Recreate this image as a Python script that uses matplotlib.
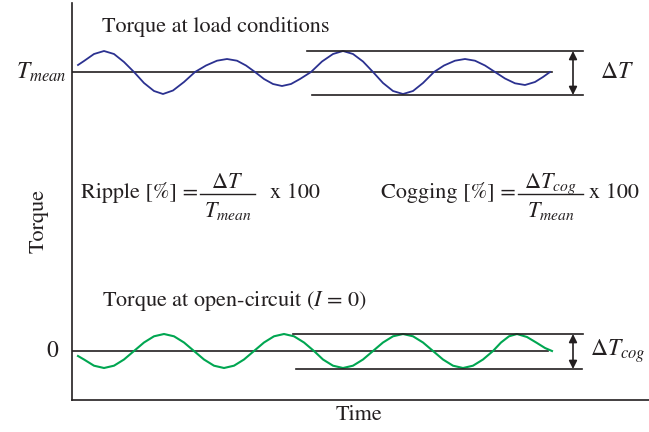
import numpy as np
import matplotlib
matplotlib.use("Agg")
import matplotlib.pyplot as plt

plt.rcParams['font.family'] = ['STIXGeneral', 'Liberation Serif', 'DejaVu Serif']
plt.rcParams['mathtext.fontset'] = 'stix'

# levels of the two traces (arbitrary torque units)
T_MEAN = 328
T_ZERO = 49

# torque at load: time and ripple around T_MEAN
load_t = [6, 12, 22, 32, 42, 52, 62, 72, 82, 91,
          101, 112, 123, 134, 145, 155, 165, 174, 183, 192,
          201, 210, 219, 228, 239, 250, 261, 271, 281, 291,
          301, 311, 321, 331, 341, 351, 362, 372, 383, 393,
          403, 413, 423, 433, 443, 453, 463, 471, 478]
load_ripple = [7, 11, 18, 21, 18, 10, 0, -11, -19, -22,
               -18.5, -10, 0, 6.5, 11.3, 13, 11.3, 6.5, 0, -7,
               -12, -14, -12, -7, 0, 10.5, 18, 21, 18, 10.5,
               0, -11, -19, -22, -19, -11, 0, 6.5, 11.3, 13,
               11.3, 6.5, 0, -6.5, -11.3, -13, -10, -5, 0]

# torque at open circuit (cogging) around 0
cog_t = [6, 12, 22, 32, 42, 52, 62, 72, 82, 92,
         102, 112, 122, 132, 142, 152, 162, 172, 182, 192,
         202, 212, 222, 232, 242, 251, 261, 271, 281, 291,
         301, 311, 321, 331, 341, 351, 361, 371, 381, 391,
         401, 411, 421, 429, 437, 445, 455, 465, 473, 480]
cog_ripple = [-5, -8.5, -14.7, -17, -14.7, -8.5, 0, 8.5, 14.7, 17,
              14.7, 8.5, 0, -8.5, -14.7, -17, -14.7, -8.5, 0, 8.5,
              14.7, 17, 14.7, 8.5, 0, -8.5, -14.7, -17, -14.7, -8.5,
              0, 8.5, 14.7, 17, 14.7, 8.5, 0, -8.5, -14.7, -17,
              -14.7, -8.5, 0, 8.5, 14.7, 17, 14, 8, 3, 0]

# envelope lines (max / min) used to define delta T
load_env_hi, load_env_lo = 349, 305
cog_env_hi, cog_env_lo = 66, 31

INK = '#231f20'
BLUE = '#2b3190'
GREEN = '#00a651'

W, H = 649, 432
fig = plt.figure(figsize=(W / 100, H / 100), dpi=100)
ax = fig.add_axes([72 / W, 32 / H, 577 / W, 397 / H])
ax.set_xlim(0, 577)
ax.set_ylim(0, 397)

for s in ['top', 'right']:
    ax.spines[s].set_visible(False)
for s in ['left', 'bottom']:
    ax.spines[s].set_color(INK)
    ax.spines[s].set_linewidth(1.2)

# mean lines
ax.plot([0, 480], [T_MEAN, T_MEAN], color=INK, lw=1.2)
ax.plot([0, 476], [T_ZERO, T_ZERO], color=INK, lw=1.2)

# waves
ax.plot(load_t, T_MEAN + np.array(load_ripple), color=BLUE, lw=1.3)
ax.plot(cog_t, T_ZERO + np.array(cog_ripple), color=GREEN, lw=1.5)

# envelopes
ax.plot([235, 511], [load_env_hi] * 2, color=INK, lw=1.2)
ax.plot([240, 511], [load_env_lo] * 2, color=INK, lw=1.2)
ax.plot([221, 511], [cog_env_hi] * 2, color=INK, lw=1.2)
ax.plot([224, 510], [cog_env_lo] * 2, color=INK, lw=1.2)

arrow = dict(arrowstyle='<|-|>', color=INK, lw=1.2, shrinkA=0, shrinkB=0,
             mutation_scale=12)
ax.annotate('', xy=(501, load_env_hi), xytext=(501, load_env_lo), arrowprops=arrow)
ax.annotate('', xy=(501, cog_env_hi), xytext=(501, cog_env_lo), arrowprops=arrow)

fs = 16
ax.text(528, T_MEAN, r'$\Delta T$', fontsize=17, va='center', ha='left', color=INK)
ax.text(518, T_ZERO, r'$\Delta T_{cog}$', fontsize=17, va='center', ha='left', color=INK)

ax.text(30, 373, 'Torque at load conditions', fontsize=fs, va='center', color=INK)
ax.text(30, 99, 'Torque at open-circuit ($I$ = 0)', fontsize=fs, va='center', color=INK)


def fraction(x0, x1, num, den, lead, tail, tail_x):
    ax.text(x0 - 2, 202, lead, fontsize=fs, ha='right', va='baseline', color=INK)
    ax.plot([x0, x1], [206, 206], color=INK, lw=1.0)
    xc = (x0 + x1) / 2
    ax.text(xc, 212, num, fontsize=fs, ha='center', va='baseline', color=INK)
    ax.text(xc, 183, den, fontsize=fs, ha='center', va='baseline', color=INK)
    ax.text(tail_x, 202, tail, fontsize=fs, ha='left', va='baseline', color=INK)


fraction(128, 183, r'$\Delta T$', r'$T_{mean}$', 'Ripple [%] =', 'x 100', 198)
fraction(446, 511, r'$\Delta T_{cog}$', r'$T_{mean}$', 'Cogging [%] =', 'x 100', 517)

# level labels on the torque axis
ax.set_xticks([])
ax.set_yticks([])
ax.text(-5, T_MEAN, r'$T_{mean}$', fontsize=17, ha='right', va='center',
        color=INK, clip_on=False)
ax.text(-14, T_ZERO, '0', fontsize=17, ha='right', va='center',
        color=INK, clip_on=False)

fig.text(39 / W, 1 - 221 / H, 'Torque', fontsize=fs, rotation=90,
         ha='center', va='center', color=INK)
fig.text(359 / W, 1 - 415 / H, 'Time', fontsize=fs,
         ha='center', va='center', color=INK)

fig.savefig('out.png', dpi=100)
